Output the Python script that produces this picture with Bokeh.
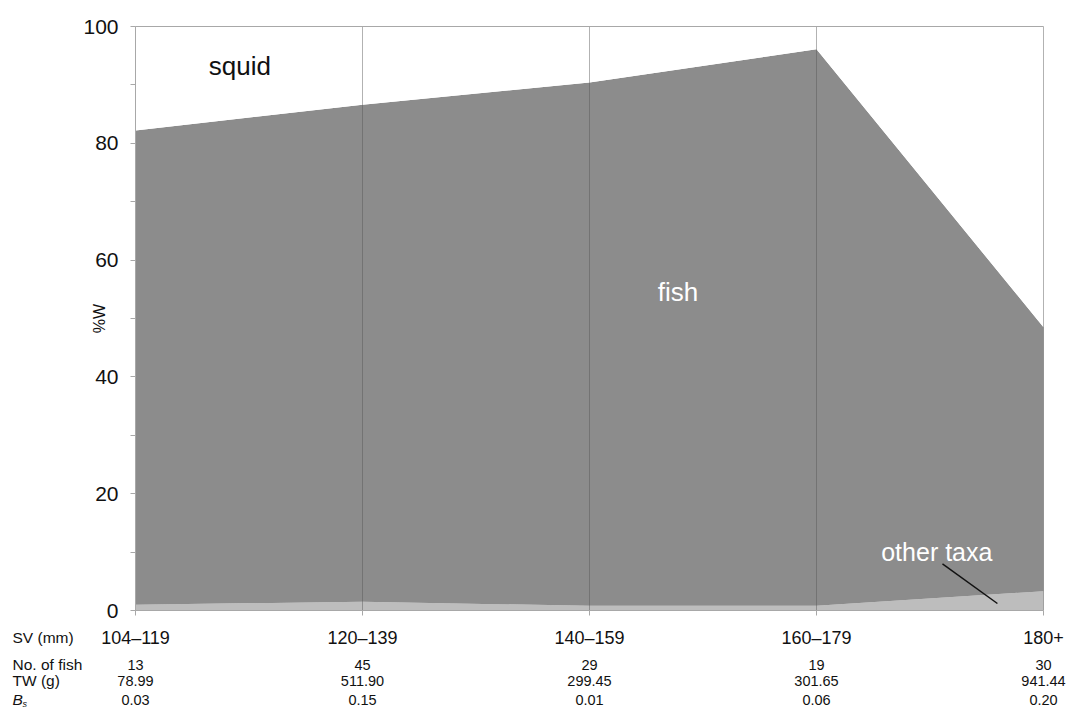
import math
from bokeh.plotting import figure
from bokeh.models import Range1d, FixedTicker, Label, LinearAxis
from bokeh.embed import file_html
from bokeh.resources import INLINE

# ---- data ----
size_classes = ["104\u2013119", "120\u2013139", "140\u2013159", "160\u2013179", "180+"]
other_taxa = [1.0, 1.5, 0.8, 0.8, 3.3]
fish = [81.2, 85.1, 89.6, 95.3, 45.2]
squid = [100 - f - o for f, o in zip(fish, other_taxa)]
n_fish = ["13", "45", "29", "19", "30"]
tw_g = ["78.99", "511.90", "299.45", "301.65", "941.44"]
b_s = ["0.03", "0.15", "0.01", "0.06", "0.20"]
y_ticks = [0, 20, 40, 60, 80, 100]
y_minor = [10, 30, 50, 70, 90]

xs = list(range(len(size_classes)))
FONT = "Liberation Sans"
TXT = "#111111"
AX = "#a8a8a8"

# ---- layout (pixels) ----
W, H = 1072, 711
PLOT_L, PLOT_R = 135, 1043     # x of first / last size class
PLOT_T, PLOT_B = 26, 610       # y of 100 % and 0 %
ppx = (PLOT_R - PLOT_L) / (xs[-1] - xs[0])
ppy = (PLOT_B - PLOT_T) / 100.0
x_start = xs[0] - PLOT_L / ppx
x_end = xs[-1] + (W - PLOT_R) / ppx
y_start = -(H - PLOT_B) / ppy
y_end = 100 + PLOT_T / ppy

p = figure(width=W, height=H, output_backend="svg", toolbar_location=None,
           x_range=Range1d(x_start, x_end), y_range=Range1d(y_start, y_end),
           x_axis_location=None, y_axis_location=None,
           min_border_left=0, min_border_right=0, min_border_top=0,
           min_border_bottom=0)
p.outline_line_color = None
p.xgrid.visible = False
p.ygrid.visible = False

p.varea_stack(stackers=["other", "fish", "squid"], x="x",
              color=["#bdbdbd", "#8c8c8c", "#ffffff"],
              source=dict(x=xs, other=other_taxa, fish=fish, squid=squid))

# vertical grid lines at each class (0-100 %) and top border at 100 %
p.segment(x0=xs, x1=xs, y0=[y_ticks[0]] * len(xs), y1=[y_ticks[-1]] * len(xs),
          line_color="#555555", line_alpha=0.45, line_width=1)
p.segment(x0=[xs[0]], x1=[xs[-1]], y0=[y_ticks[-1]], y1=[y_ticks[-1]],
          line_color=AX, line_width=1)

# y axis at first class
yax = LinearAxis(fixed_location=xs[0], bounds=(0, 100),
                 ticker=FixedTicker(ticks=y_ticks, minor_ticks=y_minor))
yax.major_label_text_font = FONT
yax.major_label_text_font_size = "21px"
yax.major_label_text_color = TXT
yax.axis_line_color = AX
yax.major_tick_line_color = AX
yax.minor_tick_line_color = AX
yax.major_tick_in = 0
yax.major_tick_out = 5
yax.minor_tick_in = 0
yax.minor_tick_out = 5
yax.major_label_standoff = 12
p.add_layout(yax, "left")

# x axis at 0 %, with size-class labels
xax = LinearAxis(fixed_location=0, bounds=(xs[0], xs[-1]), ticker=FixedTicker(ticks=xs))
xax.major_label_overrides = {x: s for x, s in zip(xs, size_classes)}
xax.major_label_text_font = FONT
xax.major_label_text_font_size = "18px"
xax.major_label_text_color = TXT
xax.axis_line_color = AX
xax.major_tick_line_color = AX
xax.major_tick_in = 0
xax.major_tick_out = 5
xax.minor_tick_line_color = None
xax.major_label_standoff = 12
p.add_layout(xax, "below")

# y axis title
p.add_layout(Label(x=xs[0], x_offset=-36, y=50, text="%W", angle=math.pi / 2,
                   text_align="center", text_baseline="middle", text_font=FONT,
                   text_font_size="16px", text_color=TXT))

# table below the chart
def ydat(py):
    return (PLOT_B - py) / ppy

row_y = {"sv": ydat(637), "n": ydat(664), "tw": ydat(680), "bs": ydat(699)}
for i, x in enumerate(xs):
    for key, arr in (("n", n_fish), ("tw", tw_g), ("bs", b_s)):
        p.add_layout(Label(x=x, y=row_y[key], text=arr[i], text_align="center",
                           text_baseline="middle", text_font=FONT, text_font_size="14.5px",
                           text_color=TXT))

LBL_DX = 12 - PLOT_L
row_labels = [("sv", "SV (mm)"), ("n", "No. of fish"), ("tw", "TW (g)")]
for key, txt in row_labels:
    p.add_layout(Label(x=xs[0], x_offset=LBL_DX, y=row_y[key], text=txt, text_align="left",
                       text_baseline="middle", text_font=FONT, text_font_size="15.5px",
                       text_color=TXT))
p.add_layout(Label(x=xs[0], x_offset=LBL_DX, y=row_y["bs"], text="B", text_align="left",
                   text_baseline="middle", text_font=FONT, text_font_size="15.5px",
                   text_font_style="italic", text_color=TXT))
p.add_layout(Label(x=xs[0], x_offset=LBL_DX + 10, y=row_y["bs"], y_offset=-4, text="s",
                   text_align="left", text_baseline="middle", text_font=FONT,
                   text_font_size="9px", text_font_style="italic", text_color=TXT))

# series labels
p.add_layout(Label(x=0.46, y=93.3, text="squid", text_align="center", text_baseline="middle",
                   text_font=FONT, text_font_size="26px", text_color=TXT))
p.add_layout(Label(x=2.39, y=54.6, text="fish", text_align="center", text_baseline="middle",
                   text_font=FONT, text_font_size="26px", text_color="#ffffff"))
p.add_layout(Label(x=3.53, y=10.1, text="other taxa", text_align="center",
                   text_baseline="middle", text_font=FONT, text_font_size="25px",
                   text_color="#ffffff"))
p.segment(x0=[3.555], y0=[8.0], x1=[3.797], y1=[1.2], line_color=TXT, line_width=1.5)

open("out.html", "w").write(file_html(p, INLINE))
